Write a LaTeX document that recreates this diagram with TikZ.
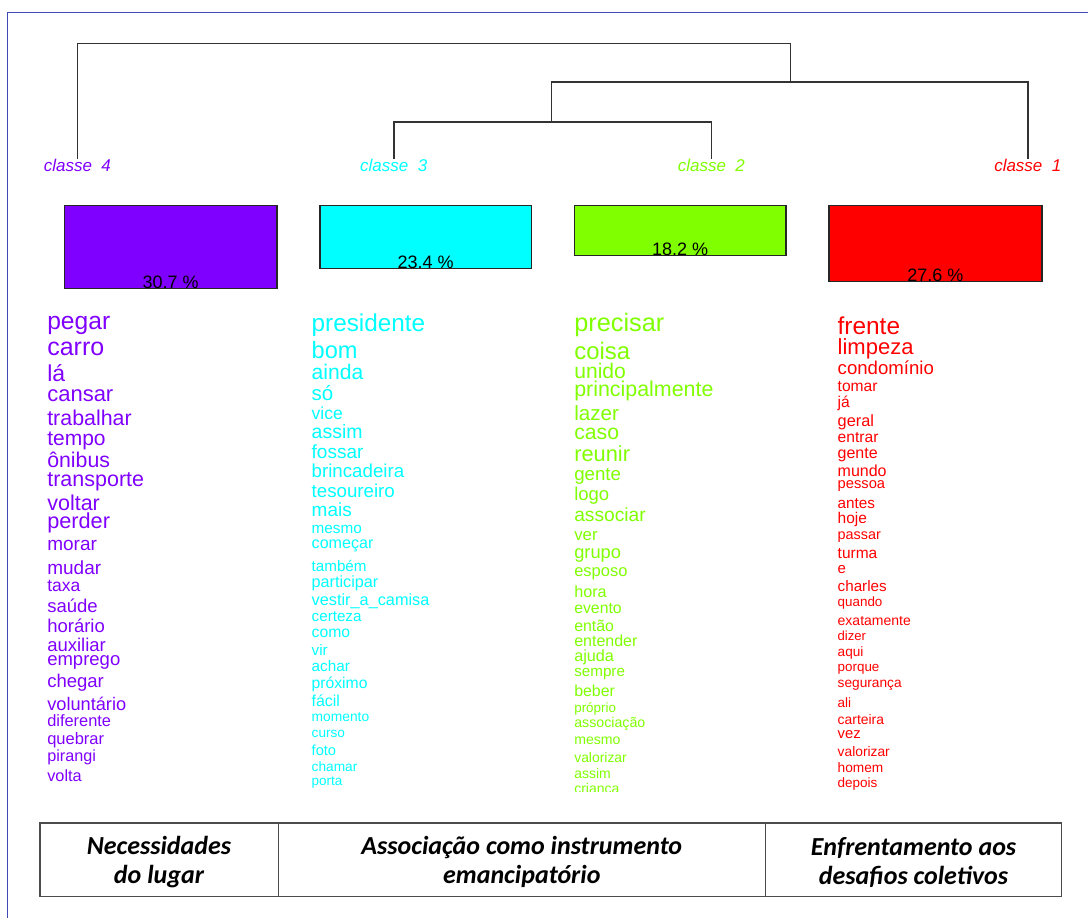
\documentclass[tikz,border=0pt]{standalone}
\usepackage{fontspec}
\setmainfont{Liberation Sans}
\newfontfamily\tabfont{Carlito}
\definecolor{cl1}{HTML}{FF0000}
\definecolor{cl2}{HTML}{80FF00}
\definecolor{cl3}{HTML}{00FFFF}
\definecolor{cl4}{HTML}{8000FF}
\definecolor{frameblue}{RGB}{63,72,180}
\newcommand{\wsize}[1]{\fontsize{#1}{#1}\selectfont}
\tikzset{
	word/.style={anchor=base west, inner sep=0pt, outer sep=0pt},
	classlbl/.style={anchor=base, inner sep=0pt, font=\itshape\wsize{17}},
	dend/.style={line width=1.6, draw=black!80},
	bar/.style={draw=black!85, line width=1.4, anchor=north west, inner sep=0pt, outer sep=0pt},
	pct/.style={anchor=base, inner sep=0pt, font=\wsize{18}},
	tbl/.style={line width=1.5, draw=black!70},
	cell/.style={align=center, inner sep=0pt, font=\tabfont\bfseries\itshape\fontsize{26}{29}\selectfont}
}

\begin{document}
\begin{tikzpicture}[x=1pt, y=-1pt]
			%%%%% START %%%%%
			\useasboundingbox (0,0) rectangle (1088,918);
			
			\draw[frameblue, line width=1.5] (7.6,918) -- (7.6,12.3) -- (1088,12.3);
			
			% class labels and tree
			\node[classlbl, text=cl4] (k4) at (77.4,171.7) {classe\ \ 4};
			\node[classlbl, text=cl3] (k3) at (393.7,171.7) {classe\ \ 3};
			\node[classlbl, text=cl2] (k2) at (711.4,171.7) {classe\ \ 2};
			\node[classlbl, text=cl1] (k1) at (1027.8,171.7) {classe\ \ 1};
			
			\coordinate (j23) at (551.6,121.7);
			\coordinate (j123) at (790.4,81.7);
			\coordinate (jall) at (434,43.3);
			\draw[dend] (k3.north) |- (j23) -| (k2.north);
			\draw[dend] (j23) |- (j123) -| (k1.north);
			\draw[dend] (k4.north) |- (jall) -| (j123);
			
			% bars
			\node[bar, fill=cl4, minimum width=212.7, minimum height=83] (b4) at (64.2,205.7) {};
			\node[bar, fill=cl3, minimum width=211.2, minimum height=63] (b3) at (320,205.7) {};
			\node[bar, fill=cl2, minimum width=211.3, minimum height=50] (b2) at (574.5,205.7) {};
			\node[bar, fill=cl1, minimum width=213.1, minimum height=76] (b1) at (828.9,205.7) {};
			\node[pct] (b4t) at (b4.south) {30.7 \%};
			\node[pct] (b3t) at (b3.south) {23.4 \%};
			\node[pct] (b2t) at (b2.south) {18.2 \%};
			\node[pct] (b1t) at (b1.south) {27.6 \%};
			
			% classe 4
			\node[word, text=cl4] (p1) at (47.3,329) {\wsize{24.6}pegar};
			\node[word, text=cl4] (p2) at (47.3,355) {\wsize{25}carro};
			\node[word, text=cl4] (p3) at (47.3,381.7) {\wsize{23}lá};
			\node[word, text=cl4] (p4) at (47.3,401.7) {\wsize{22}cansar};
			\node[word, text=cl4] (p5) at (47.3,425) {\wsize{21.4}trabalhar};
			\node[word, text=cl4] (p6) at (47.3,445.7) {\wsize{21}tempo};
			\node[word, text=cl4] (p7) at (47.3,467.7) {\wsize{21.3}ônibus};
			\node[word, text=cl4] (p8) at (47.3,486.7) {\wsize{21.5}transporte};
			\node[word, text=cl4] (p9) at (47.3,510.7) {\wsize{21.5}voltar};
			\node[word, text=cl4] (p10) at (47.3,528.3) {\wsize{21.7}perder};
			\node[word, text=cl4] (p11) at (47.3,550) {\wsize{19}morar};
			\node[word, text=cl4] (p12) at (47.3,574) {\wsize{19}mudar};
			\node[word, text=cl4] (p13) at (47.3,591.7) {\wsize{17.5}taxa};
			\node[word, text=cl4] (p14) at (47.3,612.7) {\wsize{18.5}saúde};
			\node[word, text=cl4] (p15) at (47.3,632.3) {\wsize{18.5}horário};
			\node[word, text=cl4] (p16) at (47.3,651) {\wsize{18.5}auxiliar};
			\node[word, text=cl4] (p17) at (47.3,665.7) {\wsize{18.5}emprego};
			\node[word, text=cl4] (p18) at (47.3,687.7) {\wsize{18.5}chegar};
			\node[word, text=cl4] (p19) at (47.3,710) {\wsize{18.2}voluntário};
			\node[word, text=cl4] (p20) at (47.3,726.7) {\wsize{16.4}diferente};
			\node[word, text=cl4] (p21) at (47.3,744.3) {\wsize{16.5}quebrar};
			\node[word, text=cl4] (p22) at (47.3,761.7) {\wsize{16.2}pirangi};
			\node[word, text=cl4] (p23) at (47.3,781) {\wsize{16.3}volta};
			
			% classe 3
			\node[word, text=cl3] (c1) at (311.7,331.7) {\wsize{24.3}presidente};
			\node[word, text=cl3] (c2) at (311.7,358.3) {\wsize{23.6}bom};
			\node[word, text=cl3] (c3) at (311.7,379.3) {\wsize{21.1}ainda};
			\node[word, text=cl3] (c4) at (311.7,400) {\wsize{20.5}só};
			\node[word, text=cl3] (c5) at (311.7,419) {\wsize{17.5}vice};
			\node[word, text=cl3] (c6) at (311.7,438.3) {\wsize{19.5}assim};
			\node[word, text=cl3] (c7) at (311.7,458.3) {\wsize{19}fossar};
			\node[word, text=cl3] (c8) at (311.7,477.3) {\wsize{18.7}brincadeira};
			\node[word, text=cl3] (c9) at (311.7,497.3) {\wsize{18.7}tesoureiro};
			\node[word, text=cl3] (c10) at (311.7,516.7) {\wsize{19}mais};
			\node[word, text=cl3] (c11) at (311.7,533.3) {\wsize{15.3}mesmo};
			\node[word, text=cl3] (c12) at (311.7,548.3) {\wsize{16.1}começar};
			\node[word, text=cl3] (c13) at (311.7,571.7) {\wsize{15.2}também};
			\node[word, text=cl3] (c14) at (311.7,587.3) {\wsize{16.2}participar};
			\node[word, text=cl3] (c15) at (311.7,605) {\wsize{16.3}vestir\_a\_camisa};
			\node[word, text=cl3] (c16) at (311.7,621.7) {\wsize{15.2}certeza};
			\node[word, text=cl3] (c17) at (311.7,637.3) {\wsize{15.7}como};
			\node[word, text=cl3] (c18) at (311.7,655) {\wsize{15.2}vir};
			\node[word, text=cl3] (c19) at (311.7,671.7) {\wsize{15.3}achar};
			\node[word, text=cl3] (c20) at (311.7,688.3) {\wsize{15.7}próximo};
			\node[word, text=cl3] (c21) at (311.7,706.7) {\wsize{15.9}fácil};
			\node[word, text=cl3] (c22) at (311.7,721.7) {\wsize{13.8}momento};
			\node[word, text=cl3] (c23) at (311.7,737.3) {\wsize{13.6}curso};
			\node[word, text=cl3] (c24) at (311.7,755) {\wsize{14.6}foto};
			\node[word, text=cl3] (c25) at (311.7,771) {\wsize{13.7}chamar};
			\node[word, text=cl3] (c26) at (311.7,785) {\wsize{13.5}porta};
			
			% classe 2
			\node[word, text=cl2] (g1) at (574.3,331.7) {\wsize{25.3}precisar};
			\node[word, text=cl2] (g2) at (574.3,359.3) {\wsize{23.9}coisa};
			\node[word, text=cl2] (g3) at (574.3,378.3) {\wsize{21.1}unido};
			\node[word, text=cl2] (g4) at (574.3,396.7) {\wsize{21.4}principalmente};
			\node[word, text=cl2] (g5) at (574.3,420) {\wsize{20.6}lazer};
			\node[word, text=cl2] (g6) at (574.3,439.3) {\wsize{21.2}caso};
			\node[word, text=cl2] (g7) at (574.3,461.7) {\wsize{21.8}reunir};
			\node[word, text=cl2] (g8) at (574.3,480) {\wsize{18.7}gente};
			\node[word, text=cl2] (g9) at (574.3,500) {\wsize{18.5}logo};
			\node[word, text=cl2] (g10) at (574.3,521.7) {\wsize{19.2}associar};
			\node[word, text=cl2] (g11) at (574.3,540) {\wsize{16.8}ver};
			\node[word, text=cl2] (g12) at (574.3,558.3) {\wsize{18.3}grupo};
			\node[word, text=cl2] (g13) at (574.3,576.7) {\wsize{16.5}esposo};
			\node[word, text=cl2] (g14) at (574.3,597.7) {\wsize{16.2}hora};
			\node[word, text=cl2] (g15) at (574.3,613.3) {\wsize{15.8}evento};
			\node[word, text=cl2] (g16) at (574.3,631) {\wsize{15.9}então};
			\node[word, text=cl2] (g17) at (574.3,646) {\wsize{16}entender};
			\node[word, text=cl2] (g18) at (574.3,661.7) {\wsize{16.2}ajuda};
			\node[word, text=cl2] (g19) at (574.3,676.7) {\wsize{15.2}sempre};
			\node[word, text=cl2] (g20) at (574.3,696.7) {\wsize{15.9}beber};
			\node[word, text=cl2] (g21) at (574.3,712.3) {\wsize{13.4}próprio};
			\node[word, text=cl2] (g22) at (574.3,727.7) {\wsize{14.2}associação};
			\node[word, text=cl2] (g23) at (574.3,744.3) {\wsize{14.1}mesmo};
			\node[word, text=cl2] (g24) at (574.3,762.7) {\wsize{13.9}valorizar};
			\node[word, text=cl2] (g25) at (574.3,778.3) {\wsize{14}assim};
			\begin{scope}
				\clip (560,770) rectangle (700,791);
				\node[word, text=cl2] (g26) at (574.3,793) {\wsize{14}criança};
			\end{scope}
			
			% classe 1
			\node[word, text=cl1] (r1) at (837.7,334.3) {\wsize{24.4}frente};
			\node[word, text=cl1] (r2) at (837.7,354) {\wsize{22}limpeza};
			\node[word, text=cl1] (r3) at (837.7,374) {\wsize{18.6}condomínio};
			\node[word, text=cl1] (r4) at (837.7,391.7) {\wsize{15.6}tomar};
			\node[word, text=cl1] (r5) at (837.7,407.3) {\wsize{15.6}já};
			\node[word, text=cl1] (r6) at (837.7,426) {\wsize{16.3}geral};
			\node[word, text=cl1] (r7) at (837.7,442.7) {\wsize{15.6}entrar};
			\node[word, text=cl1] (r8) at (837.7,458.3) {\wsize{16}gente};
			\node[word, text=cl1] (r9) at (837.7,476) {\wsize{16}mundo};
			\node[word, text=cl1] (r10) at (837.7,488.3) {\wsize{14.7}pessoa};
			\node[word, text=cl1] (r11) at (837.7,508.3) {\wsize{15.3}antes};
			\node[word, text=cl1] (r12) at (837.7,523.3) {\wsize{15.5}hoje};
			\node[word, text=cl1] (r13) at (837.7,539.3) {\wsize{14.4}passar};
			\node[word, text=cl1] (r14) at (837.7,558.3) {\wsize{15.5}turma};
			\node[word, text=cl1] (r15) at (837.7,573.3) {\wsize{15}e};
			\node[word, text=cl1] (r16) at (837.7,591) {\wsize{15.2}charles};
			\node[word, text=cl1] (r17) at (837.7,606.7) {\wsize{13.4}quando};
			\node[word, text=cl1] (r18) at (837.7,625) {\wsize{14}exatamente};
			\node[word, text=cl1] (r19) at (837.7,640.7) {\wsize{13.1}dizer};
			\node[word, text=cl1] (r20) at (837.7,656) {\wsize{13.6}aqui};
			\node[word, text=cl1] (r21) at (837.7,671.7) {\wsize{13.4}porque};
			\node[word, text=cl1] (r22) at (837.7,687.7) {\wsize{13.7}segurança};
			\node[word, text=cl1] (r23) at (837.7,707.3) {\wsize{13.5}ali};
			\node[word, text=cl1] (r24) at (837.7,724) {\wsize{13.9}carteira};
			\node[word, text=cl1] (r25) at (837.7,738.3) {\wsize{14.8}vez};
			\node[word, text=cl1] (r26) at (837.7,756.7) {\wsize{13.8}valorizar};
			\node[word, text=cl1] (r27) at (837.7,772.7) {\wsize{13.7}homem};
			\node[word, text=cl1] (r28) at (837.7,787.7) {\wsize{13.5}depois};
			
			% table
			\draw[tbl] (40,823) rectangle (1061.6,896.7);
			\draw[tbl] (278.3,823) -- (278.3,896.7);
			\draw[tbl] (765.4,823) -- (765.4,896.7);
			\node[cell] (n1) at (159,862) {Necessidades\\do lugar};
			\node[cell] (n2) at (521.8,862) {Associação como instrumento\\emancipatório};
			\node[cell] (n3) at (913.5,862) {Enfrentamento aos\\desafios coletivos};
			
			%%%%% END %%%%%
		\end{tikzpicture}
\end{document}
